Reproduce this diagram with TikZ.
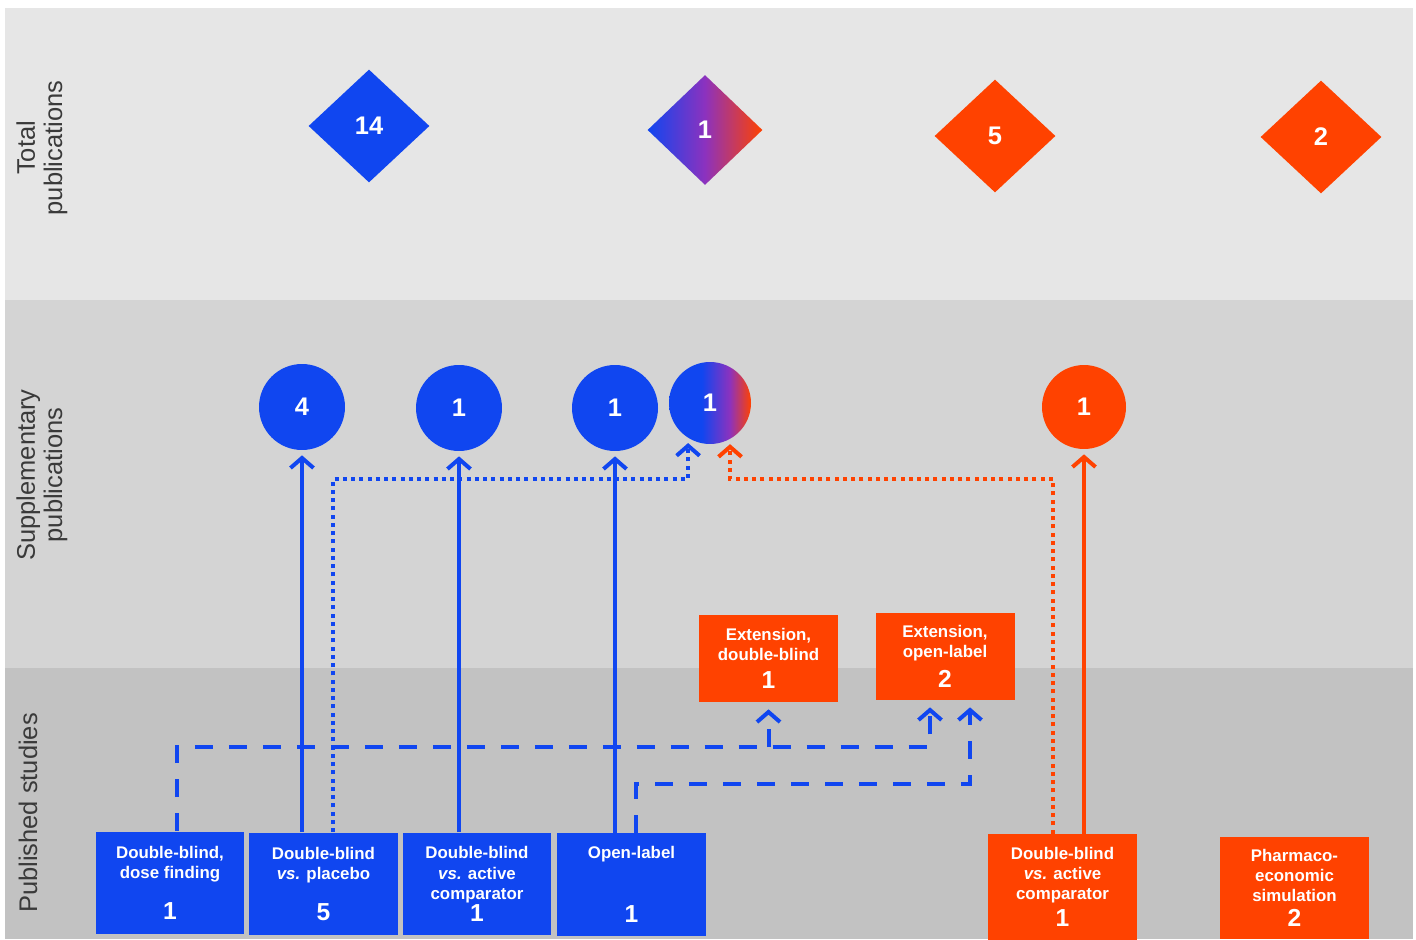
\documentclass[tikz,border=0pt]{standalone}
\usepackage{fontspec}
\setmainfont{Liberation Sans}
\usetikzlibrary{arrows.meta,shapes.geometric}
\definecolor{blu}{RGB}{16,70,240}
\definecolor{org}{RGB}{255,66,0}
\definecolor{purp}{RGB}{140,50,190}
\definecolor{bandA}{RGB}{230,230,230}
\definecolor{bandB}{RGB}{212,212,212}
\definecolor{bandC}{RGB}{194,194,194}
\definecolor{labgray}{RGB}{58,58,58}
\pgfdeclarehorizontalshading{diamshade}{100bp}{color(0bp)=(blu); color(25bp)=(blu); color(50bp)=(purp); color(75bp)=(org); color(100bp)=(org)}
\pgfdeclarehorizontalshading{circshade}{100bp}{color(0bp)=(blu); color(45bp)=(blu); color(62bp)=(purp); color(75bp)=(org); color(100bp)=(org)}
\newcommand\bignum[1]{{\fontsize{14}{15}\selectfont #1}}
\tikzset{
  bandlabel/.style={rotate=90, align=center, text=labgray, font=\fontsize{14.5}{15.5}\selectfont},
  diam/.style={diamond, minimum width=2.42cm, minimum height=2.26cm, inner sep=0pt, text=white, font=\fontsize{14.5}{15}\selectfont\bfseries},
  pub/.style={circle, minimum size=1.72cm, inner sep=0pt, text=white, font=\fontsize{14.5}{15}\selectfont\bfseries},
  studybox/.style={rectangle, minimum width=2.98cm, minimum height=2.06cm, inner sep=0pt, align=center, text=white, font=\fontsize{9.6}{11.4}\selectfont\bfseries},
  extbox/.style={studybox, minimum width=2.78cm, minimum height=1.74cm},
  conn/.style={line width=0.08cm, -{Straight Barb[length=0.2cm,width=0.46cm]}, shorten >=0.1cm},
  bluarr/.style={conn, draw=blu},
  orgarr/.style={conn, draw=org},
  bludot/.style={bluarr, dash pattern=on 0.08cm off 0.085cm},
  orgdot/.style={orgarr, dash pattern=on 0.08cm off 0.085cm},
  bludash/.style={bluarr, dash pattern=on 0.36cm off 0.32cm, shorten >=0.14cm}
}
\begin{document}
\begin{tikzpicture}[x=0.02cm, y=-0.02cm]
  % bands
  \fill[white] (0,0) rectangle (1416,939);
  \fill[bandA] (5,8) rectangle (1413,300);
  \fill[bandB] (5,300) rectangle (1413,668);
  \fill[bandC] (5,668) rectangle (1413,939);

  \node[bandlabel] (ltot) at (42,148) {Total\\publications};
  \node[bandlabel] (lsup) at (42,475) {Supplementary\\publications};
  \node[bandlabel] (lpub) at (28,813) {Published studies};

  % total publications
  \node[diam, fill=blu] (d1) at (369,126) {14};
  \node[diam, shade, shading=diamshade, minimum width=2.3cm, minimum height=2.2cm] (d2) at (705,130) {1};
  \node[diam, fill=org] (d3) at (995,136) {5};
  \node[diam, fill=org] (d4) at (1321,137) {2};

  % supplementary publications
  \node[pub, fill=blu] (c1) at (302,407) {4};
  \node[pub, fill=blu] (c2) at (459,408) {1};
  \node[pub, fill=blu] (c3) at (615,408) {1};
  \node[pub, shade, shading=circshade, minimum size=1.64cm] (c4) at (710,403) {1};
  \node[pub, fill=org, minimum size=1.68cm] (c5) at (1084,407) {1};

  % published studies
  \node[studybox, fill=blu] (b1) at (170,883) {Double-blind,\\dose finding\\[11pt]\bignum{1}};
  \node[studybox, fill=blu] (b2) at (323.5,884) {Double-blind\\\textit{vs.} placebo\\[11pt]\bignum{5}};
  \node[studybox, fill=blu] (b3) at (477,884) {Double-blind\\\textit{vs.} active\\comparator\\\bignum{1}};
  \node[studybox, fill=blu] (b4) at (631.5,884.5) {Open-label\\[23.5pt]\bignum{1}};
  \node[studybox, fill=org, minimum height=2.12cm] (b5) at (1062.5,887) {Double-blind\\\textit{vs.} active\\comparator\\[3pt]\bignum{1}};
  \node[studybox, fill=org] (b6) at (1294.5,888) {Pharmaco-\\economic\\simulation\\[3pt]\bignum{2}};
  \node[extbox, fill=org] (e1) at (768.5,658.5) {Extension,\\double-blind\\[4.5pt]\bignum{1}};
  \node[extbox, fill=org] (e2) at (945,656.5) {Extension,\\open-label\\[4.5pt]\bignum{2}};

  % connectors
  \coordinate (dotrow) at (0,479);
  \coordinate (dashrowA) at (0,747);
  \coordinate (dashrowB) at (0,784);

  \draw[bluarr] (b2.north -| c1) -- (c1);
  \draw[bluarr] (b3.north -| c2) -- (c2);
  \draw[bluarr] (b4.north -| c3) -- (c3);
  \draw[orgarr] (b5.north -| c5) -- (c5);

  \draw[bludot] ([xshift=0.19cm]b2.north) |- (c4.238 |- dotrow) -- (c4.238);
  \draw[orgdot] ([xshift=-0.19cm]b5.north) |- (c4.299 |- dotrow) -- (c4.299);

  \draw[bludash] ([xshift=0.14cm]b1.north) |- ([xshift=-0.3cm]e2.south |- dashrowA) -- ([xshift=-0.3cm]e2.south);
  \draw[bludash] (e1.south |- dashrowA) -- (e1.south);
  \draw[bludash] ([xshift=0.09cm]b4.north) |- ([xshift=0.5cm]e2.south |- dashrowB) -- ([xshift=0.5cm]e2.south);
\end{tikzpicture}
\end{document}
